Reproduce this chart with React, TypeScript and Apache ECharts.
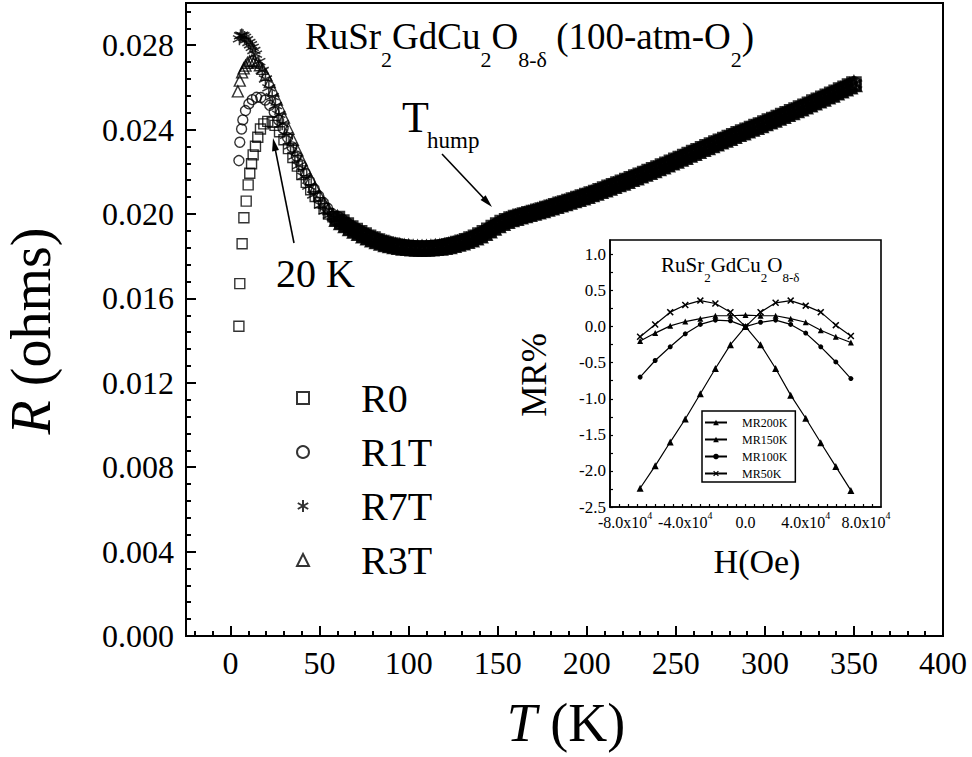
import React, { useEffect, useRef } from 'react';
import * as echarts from 'echarts';

const SERIF = "'Liberation Serif', serif";

// ---------- main plot: tick labels ----------
const tempTicks = [0, 50, 100, 150, 200, 250, 300, 350, 400];
const resTicks = [0, 0.004, 0.008, 0.012, 0.016, 0.02, 0.024, 0.028];

// ---------- main plot: series (T in K, R in ohms) ----------
const seriesNames = ['R0', 'R1T', 'R7T', 'R3T'];

const r0Low = [
  [4.7, 0.01468], [5.2, 0.0167], [6.5, 0.01859], [7.5, 0.01982], [8.8, 0.02061], [9.9, 0.02138],
  [10.8, 0.02193], [11.8, 0.02238], [12.7, 0.0228], [14, 0.02321], [15.3, 0.02364], [16.8, 0.02403],
  [18.7, 0.02427], [20.9, 0.02439], [23.4, 0.02435], [25, 0.0242], [27.5, 0.0239], [30, 0.02352],
  [32.5, 0.0231], [35, 0.02268], [37.5, 0.02227], [40, 0.02187], [42.5, 0.0215], [45, 0.02115],
  [47.5, 0.02083], [50, 0.02053], [52.5, 0.02026], [55, 0.02], [57.5, 0.01987],
];

const r1tLow = [
  [4.7, 0.02253], [5.2, 0.0234], [6.2, 0.02403], [6.9, 0.02446], [8.4, 0.0249], [10.3, 0.02522],
  [12.2, 0.02542], [14.6, 0.02553], [17, 0.02552], [19.5, 0.0254], [22, 0.02515], [24.5, 0.02483],
  [27, 0.02445], [29.5, 0.02405], [32, 0.02362], [34.5, 0.02318], [37, 0.02275], [39.5, 0.02233],
  [42, 0.02193], [44.5, 0.02155], [47, 0.02119], [49.5, 0.02086], [52, 0.02055], [54.5, 0.02027],
  [57, 0.02002],
];

const r7tLow = [
  [5.0, 0.0283], [5.6, 0.02845], [6.3, 0.02848], [7.0, 0.02845], [7.9, 0.02837], [9.0, 0.02826],
  [10.3, 0.02813], [11.2, 0.02802], [12.2, 0.0279], [13.1, 0.02775], [14, 0.02758], [15.9, 0.02722],
  [17.8, 0.0268], [19.6, 0.0264], [21.5, 0.02598], [23.4, 0.02556], [25.2, 0.02514], [27.1, 0.02472],
  [29, 0.02428], [31.4, 0.02373], [33.7, 0.02323], [36.1, 0.02274], [38.3, 0.02229], [41.1, 0.02178],
  [43.9, 0.02132], [46.7, 0.0209], [50.5, 0.02042], [53, 0.02014], [55.5, 0.01994], [58, 0.01984],
];

const r3tLow = [
  [4.1, 0.02581], [5.2, 0.02632], [6.5, 0.02671], [7.4, 0.0269], [8.4, 0.02703], [9.5, 0.02716],
  [10.7, 0.02724], [12, 0.02728], [13.5, 0.02726], [15, 0.02718], [16.5, 0.02705], [18, 0.02688],
  [20, 0.0266], [22, 0.02625], [24, 0.02585], [26, 0.02543], [28, 0.025], [30, 0.02457],
  [32.5, 0.02404], [35, 0.02352], [37.5, 0.02302], [40, 0.02254], [42.5, 0.02208], [45, 0.02165],
  [47.5, 0.02125], [50, 0.02088], [52.5, 0.02054], [55, 0.02024], [57.5, 0.01998],
];

// above ~60 K the four curves coincide within the marker size
const highT = [
  [60, 0.01978], [62.5, 0.01962], [65, 0.01948], [67.5, 0.01934], [70, 0.01922], [72.5, 0.01911],
  [75, 0.019], [77.5, 0.0189], [80, 0.01881], [82.5, 0.01872], [85, 0.01865], [87.5, 0.01858],
  [90, 0.01853], [92.5, 0.01848], [95, 0.01845], [97.5, 0.01842], [100, 0.0184], [102.5, 0.01838],
  [105, 0.01837], [107.5, 0.01837], [110, 0.01837], [112.5, 0.01838], [115, 0.0184], [117.5, 0.01842],
  [120, 0.01845], [122.5, 0.01849], [125, 0.01854], [127.5, 0.0186], [130, 0.01866], [132.5, 0.01873],
  [135, 0.01881], [137.5, 0.0189], [140, 0.019], [142.5, 0.01911], [145, 0.01923], [147.5, 0.01936],
  [150, 0.01948], [152.5, 0.01959], [155, 0.01968], [157.5, 0.01976], [160, 0.01983], [162.5, 0.01989],
  [165, 0.01995], [167.5, 0.02001], [170, 0.02007], [172.5, 0.02013], [175, 0.02019], [177.5, 0.02026],
  [180, 0.02032], [182.5, 0.02039], [185, 0.02046], [187.5, 0.02052], [190, 0.02059], [192.5, 0.02066],
  [195, 0.02073], [197.5, 0.0208], [200, 0.02087], [202.5, 0.02095], [205, 0.02102], [207.5, 0.0211],
  [210, 0.02118], [212.5, 0.02126], [215, 0.02134], [217.5, 0.02142], [220, 0.0215], [222.5, 0.02158],
  [225, 0.02167], [227.5, 0.02175], [230, 0.02184], [232.5, 0.02192], [235, 0.02201], [237.5, 0.02209],
  [240, 0.02218], [242.5, 0.02227], [245, 0.02236], [247.5, 0.02245], [250, 0.02254], [252.5, 0.02263],
  [255, 0.02272], [257.5, 0.02282], [260, 0.02291], [262.5, 0.023], [265, 0.02309], [267.5, 0.02318],
  [270, 0.02327], [272.5, 0.02336], [275, 0.02345], [277.5, 0.02353], [280, 0.02362], [282.5, 0.02371],
  [285, 0.0238], [287.5, 0.02388], [290, 0.02397], [292.5, 0.02405], [295, 0.02414], [297.5, 0.02422],
  [300, 0.02431], [302.5, 0.0244], [305, 0.02448], [307.5, 0.02457], [310, 0.02466], [312.5, 0.02475],
  [315, 0.02484], [317.5, 0.02493], [320, 0.02502], [322.5, 0.02511], [325, 0.0252], [327.5, 0.0253],
  [330, 0.02539], [332.5, 0.02548], [335, 0.02558], [337.5, 0.02567], [340, 0.02577], [342.5, 0.02587],
  [345, 0.02596], [347.5, 0.02606], [350, 0.02616],
];

// ---------- inset ----------
const fieldTicks = [-80000, -40000, 0, 40000, 80000];
const mrTicks = [-2.5, -2.0, -1.5, -1.0, -0.5, 0.0, 0.5, 1.0];
const insetNames = ['MR200K', 'MR150K', 'MR100K', 'MR50K'];
const fieldH = [-70000, -60000, -50000, -40000, -30000, -20000, -10000, 0, 10000, 20000, 30000, 40000, 50000, 60000, 70000];
const mr200K = [-2.24, -1.93, -1.6, -1.28, -0.93, -0.58, -0.25, 0, -0.25, -0.58, -0.95, -1.27, -1.61, -1.94, -2.27];
const mr150K = [-0.2, -0.09, 0.01, 0.07, 0.11, 0.15, 0.15, 0.16, 0.15, 0.15, 0.11, 0.06, -0.05, -0.14, -0.22];
const mr100K = [-0.7, -0.47, -0.28, -0.1, 0.03, 0.09, 0.08, 0, 0.06, 0.09, 0.03, -0.09, -0.28, -0.49, -0.72];
const mr50K = [-0.14, 0.03, 0.2, 0.3, 0.36, 0.32, 0.2, 0, 0.2, 0.33, 0.36, 0.29, 0.2, 0.02, -0.13];

const STAR = 'path://M5 0L5 10M0.67 2.5L9.33 7.5M0.67 7.5L9.33 2.5';
const CROSS = 'path://M0 1.5L1.5 0L5 3.5L8.5 0L10 1.5L6.5 5L10 8.5L8.5 10L5 6.5L1.5 10L0 8.5L3.5 5Z';

function arrow(x1: number, y1: number, x2: number, y2: number, len = 13, w = 3.5) {
  const dx = x2 - x1, dy = y2 - y1, L = Math.hypot(dx, dy);
  const ux = dx / L, uy = dy / L;
  const bx = x2 - ux * len, by = y2 - uy * len;
  const px = -uy * w, py = ux * w;
  return [
    { type: 'line', silent: true, shape: { x1, y1, x2: bx + ux * 2, y2: by + uy * 2 }, style: { stroke: '#000', lineWidth: 1.6 } },
    { type: 'polygon', silent: true, shape: { points: [[x2, y2], [bx + px, by + py], [bx - px, by - py]] }, style: { fill: '#000' } },
  ];
}

function ticksBetween(from: number, to: number, step: number, skipEvery: number) {
  const out: number[] = [];
  const n = Math.round((to - from) / step);
  for (let k = 0; k <= n; k++) {
    if (skipEvery > 0 && k % skipEvery === 0) continue;
    out.push(+(from + k * step).toFixed(6));
  }
  return out;
}

export default function App() {
  const ref = useRef<HTMLDivElement>(null);

  useEffect(() => {
    document.body.style.margin = '0';
    if (!ref.current) return;
    const chart = echarts.init(ref.current, undefined, { renderer: 'svg' });

    const xMinor = ticksBetween(-20, 390, 10, 0).filter((v) => v % 50 !== 0);
    const yMinor = ticksBetween(0, 0.0296, 0.0008, 5);
    const hTicks = ticksBetween(-84000, 84000, 6000, 0);
    const mrTickMarks = ticksBetween(-2.5, 1.0, 0.25, 0);

    const mainStyle = [
      { symbol: 'rect', size: 10, bw: 1.4 },
      { symbol: 'circle', size: 10, bw: 1.4 },
      { symbol: STAR, size: 13, bw: 1.5 },
      { symbol: 'triangle', size: 11, bw: 1.4 },
    ];
    const lows = [r0Low, r1tLow, r7tLow, r3tLow];
    const mainSeries = seriesNames.map((name, i) => ({
      name,
      type: 'scatter',
      xAxisIndex: 0,
      yAxisIndex: 0,
      symbol: mainStyle[i].symbol,
      symbolSize: mainStyle[i].size,
      itemStyle: { color: 'rgba(0,0,0,0)', borderColor: '#000', borderWidth: mainStyle[i].bw },
      data: [
        ...lows[i],
        ...highT.map((p) => ({ value: p, symbolSize: mainStyle[i].size + 3, itemStyle: { borderWidth: 2.6 } })),
      ],
      silent: true,
      z: 3,
    }));

    const insetVals = [mr200K, mr150K, mr100K, mr50K];
    const insetSym = [
      { symbol: 'triangle', size: 7 },
      { symbol: 'triangle', size: 6 },
      { symbol: 'circle', size: 5 },
      { symbol: CROSS, size: 7 },
    ];
    const insetSeries = insetNames.map((name, i) => ({
      name,
      type: 'line',
      xAxisIndex: 2,
      yAxisIndex: 2,
      symbol: insetSym[i].symbol,
      symbolSize: insetSym[i].size,
      showAllSymbol: true,
      itemStyle: { color: '#000' },
      lineStyle: { color: '#000', width: 1.2 },
      data: fieldH.map((h, k) => [h, insetVals[i][k]]),
      silent: true,
      z: 5,
    }));

    const tok = (fs: number, lh: number, va: string) => ({ fontSize: fs, fontFamily: SERIF, fill: '#000', lineHeight: lh, verticalAlign: va });

    const option: any = {
      animation: false,
      backgroundColor: '#fff',
      textStyle: { fontFamily: SERIF },
      grid: [
        { left: 186, right: 29, top: 3, bottom: 121, show: true, borderColor: '#000', borderWidth: 2, backgroundColor: 'transparent' },
        { left: 610, right: 91, top: 240, bottom: 250, show: true, borderColor: '#000', borderWidth: 1.6, backgroundColor: '#fff', z: 4 },
      ],
      xAxis: [
        {
          type: 'value', gridIndex: 0, min: -25, max: 400,
          axisLine: { show: true, onZero: false, lineStyle: { color: '#000', width: 2 } },
          axisTick: { show: true, inside: true, length: 10, customValues: tempTicks, lineStyle: { color: '#000', width: 2 } },
          axisLabel: { customValues: tempTicks, fontSize: 32, fontFamily: SERIF, color: '#000', margin: 11 },
          splitLine: { show: false },
        },
        {
          type: 'value', gridIndex: 0, min: -25, max: 400, position: 'bottom',
          axisLine: { show: false, onZero: false },
          axisTick: { show: true, inside: true, length: 5, customValues: xMinor, lineStyle: { color: '#000', width: 2 } },
          axisLabel: { show: false },
          splitLine: { show: false },
        },
        {
          type: 'value', gridIndex: 1, min: -90000, max: 90000,
          axisLine: { show: true, onZero: false, lineStyle: { color: '#000', width: 1.6 } },
          axisTick: { show: true, inside: true, length: 3, customValues: hTicks, lineStyle: { color: '#000', width: 1.2 } },
          axisLabel: {
            customValues: fieldTicks, margin: 3, color: '#000', fontFamily: SERIF, fontSize: 16,
            formatter: (v: number) => (v === 0 ? '{m|0.0}' : `{m|${(v / 10000).toFixed(1)}x10}{s|4}`),
            rich: {
              m: { fontSize: 16, fontFamily: SERIF, color: '#000', lineHeight: 20, verticalAlign: 'bottom' },
              s: { fontSize: 10, fontFamily: SERIF, color: '#000', lineHeight: 11, verticalAlign: 'top' },
            },
          },
          splitLine: { show: false },
          z: 5,
        },
      ],
      yAxis: [
        {
          type: 'value', gridIndex: 0, min: 0, max: 0.03,
          axisLine: { show: true, onZero: false, lineStyle: { color: '#000', width: 2 } },
          axisTick: { show: true, inside: true, length: 10, customValues: resTicks, lineStyle: { color: '#000', width: 2 } },
          axisLabel: { customValues: resTicks, fontSize: 32, fontFamily: SERIF, color: '#000', margin: 12, formatter: (v: number) => v.toFixed(3) },
          splitLine: { show: false },
        },
        {
          type: 'value', gridIndex: 0, min: 0, max: 0.03, position: 'left',
          axisLine: { show: false, onZero: false },
          axisTick: { show: true, inside: true, length: 5, customValues: yMinor, lineStyle: { color: '#000', width: 2 } },
          axisLabel: { show: false },
          splitLine: { show: false },
        },
        {
          type: 'value', gridIndex: 1, min: -2.5, max: 1.2,
          axisLine: { show: true, onZero: false, lineStyle: { color: '#000', width: 1.6 } },
          axisTick: { show: true, inside: true, length: 3, customValues: mrTickMarks, lineStyle: { color: '#000', width: 1.2 } },
          axisLabel: { customValues: mrTicks, fontSize: 17, fontFamily: SERIF, color: '#000', margin: 4, formatter: (v: number) => v.toFixed(1) },
          splitLine: { show: false },
          z: 5,
        },
      ],
      legend: [
        {
          data: seriesNames, orient: 'vertical', left: 296, top: 378, padding: 0,
          itemWidth: 12, itemHeight: 12, itemGap: 14, selectedMode: false,
          textStyle: { fontSize: 40, fontFamily: SERIF, color: '#000', lineHeight: 40, padding: [0, 0, 0, 47] },
        },
        {
          data: insetNames, orient: 'vertical', left: 702, top: 411, padding: [5, 8, 2, 2],
          itemWidth: 22, itemHeight: 7, itemGap: 4, selectedMode: false,
          borderColor: '#000', borderWidth: 1.5, backgroundColor: '#fff', z: 6,
          textStyle: { fontSize: 12, fontFamily: SERIF, color: '#000', lineHeight: 13, padding: [0, 0, 0, 10] },
        },
      ],
      graphic: [
        // main title
        {
          type: 'text', left: 305, top: 18, silent: true,
          style: {
            text: '{n|RuSr}{s|2}{n|GdCu}{s|2}{n|O}{s|8-δ}{n| (100-atm-O}{s|2}{n|)}',
            rich: { n: tok(37, 37, 'top'), s: tok(22, 52, 'bottom') },
          },
        },
        // T_hump
        { type: 'text', x: 402, y: 117, silent: true, style: { text: 'T', fontSize: 44, fontFamily: SERIF, fill: '#000', align: 'left', verticalAlign: 'middle' } },
        { type: 'text', x: 427, y: 140, silent: true, style: { text: 'hump', fontSize: 23, fontFamily: SERIF, fill: '#000', align: 'left', verticalAlign: 'middle' } },
        ...arrow(442, 154, 492, 207),
        // 20 K
        { type: 'text', x: 276, y: 273, silent: true, style: { text: '20 K', fontSize: 40, fontFamily: SERIF, fill: '#000', align: 'left', verticalAlign: 'middle' } },
        ...arrow(294, 243, 273, 138),
        // axis titles
        {
          type: 'text', x: 31, y: 331, rotation: Math.PI / 2, silent: true,
          style: {
            text: '{i|R}{n| (ohms)}', align: 'center', verticalAlign: 'middle',
            rich: {
              i: { fontSize: 56, fontFamily: SERIF, fontStyle: 'italic', fill: '#000' },
              n: { fontSize: 56, fontFamily: SERIF, fill: '#000' },
            },
          },
        },
        {
          type: 'text', x: 566, y: 723, silent: true,
          style: {
            text: '{i|T}{n| (K)}', align: 'center', verticalAlign: 'middle',
            rich: {
              i: { fontSize: 54, fontFamily: SERIF, fontStyle: 'italic', fill: '#000' },
              n: { fontSize: 54, fontFamily: SERIF, fill: '#000' },
            },
          },
        },
        // inset texts
        {
          type: 'text', left: 661, top: 254, silent: true, z: 10,
          style: {
            text: '{n|RuSr}{s|2}{n|GdCu}{s|2}{n|O}{s|8-δ}',
            rich: { n: tok(21, 21, 'top'), s: tok(13, 30, 'bottom') },
          },
        },
        { type: 'text', x: 534, y: 375, rotation: Math.PI / 2, silent: true, style: { text: 'MR%', fontSize: 35, fontFamily: SERIF, fill: '#000', align: 'center', verticalAlign: 'middle' } },
        { type: 'text', x: 757, y: 561, silent: true, style: { text: 'H(Oe)', fontSize: 34, fontFamily: SERIF, fill: '#000', align: 'center', verticalAlign: 'middle' } },
      ],
      series: [...mainSeries, ...insetSeries],
    };

    chart.setOption(option);
    return () => chart.dispose();
  }, []);

  return <div ref={ref} style={{ width: 972, height: 757 }} />;
}
